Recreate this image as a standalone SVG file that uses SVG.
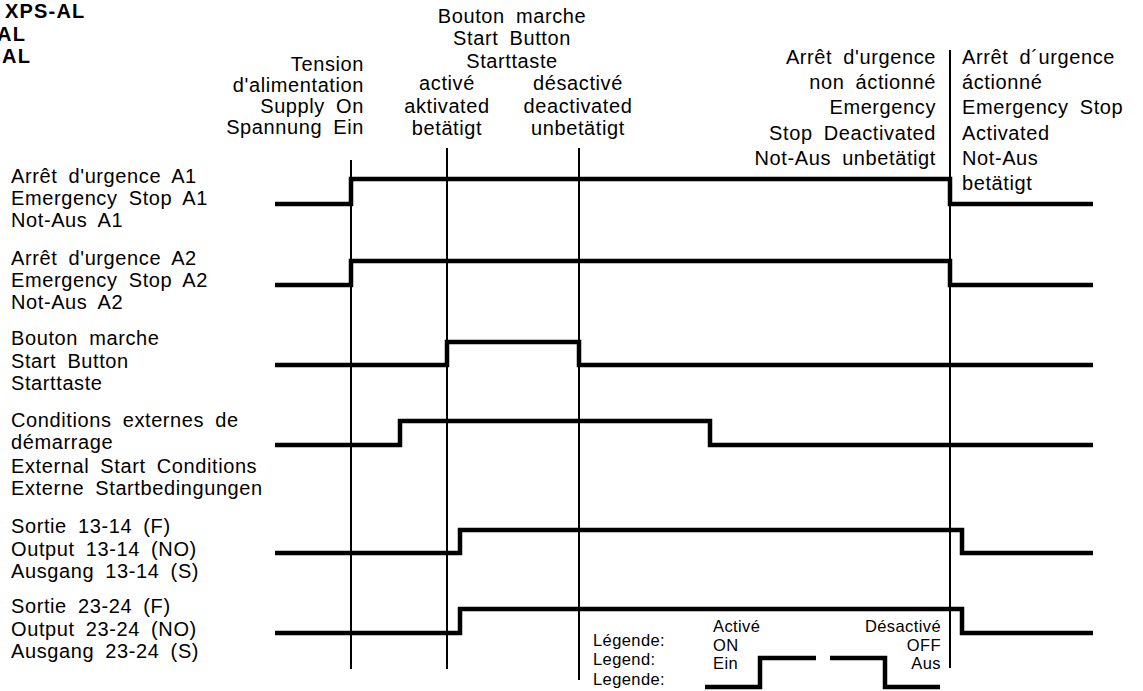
<svg xmlns="http://www.w3.org/2000/svg" width="1143" height="691" viewBox="0 0 1143 691">
<style>
text{font-family:"Liberation Sans",Arial,Helvetica,sans-serif;fill:#000}
.t{font-size:20px;letter-spacing:0.6px;word-spacing:5px}
.s{font-size:16.5px;letter-spacing:0.4px}
.b{font-size:20px;font-weight:bold;letter-spacing:1.2px}
.e{text-anchor:end}
.m{text-anchor:middle}
.w{fill:none;stroke:#000;stroke-width:4.5;stroke-linejoin:miter;stroke-linecap:butt}
.v{fill:none;stroke:#000;stroke-width:2}
</style>
<rect width="1143" height="691" fill="#fff"/>
<g id="title">
<text class="b" x="5" y="18">XPS-AL</text>
<text class="b" x="-3" y="41">AL</text>
<text class="b" x="2" y="63">AL</text>
</g>
<g id="connectors">
<line class="v" x1="351" y1="160" x2="351" y2="669"/>
<line class="v" x1="447" y1="148" x2="447" y2="669"/>
<line class="v" x1="579" y1="148" x2="579" y2="680"/>
<line class="v" x1="950" y1="50" x2="950" y2="668"/>
</g>
<g id="event-supply">
<text class="t e" x="364" y="71">Tension</text>
<text class="t e" x="364" y="92">d'alimentation</text>
<text class="t e" x="364" y="113">Supply On</text>
<text class="t e" x="364" y="134">Spannung Ein</text>
</g>
<g id="event-start">
<text class="t m" x="512" y="23">Bouton marche</text>
<text class="t m" x="512" y="45">Start Button</text>
<text class="t m" x="512" y="68">Starttaste</text>
<text class="t m" x="447" y="90">activé</text>
<text class="t m" x="447" y="113">aktivated</text>
<text class="t m" x="447" y="135">betätigt</text>
<text class="t m" x="578" y="90">désactivé</text>
<text class="t m" x="578" y="113">deactivated</text>
<text class="t m" x="578" y="135">unbetätigt</text>
</g>
<g id="event-estop-off">
<text class="t e" x="936" y="64">Arrêt d'urgence</text>
<text class="t e" x="936" y="89">non áctionné</text>
<text class="t e" x="936" y="114">Emergency</text>
<text class="t e" x="936" y="140">Stop Deactivated</text>
<text class="t e" x="936" y="165">Not-Aus unbetätigt</text>
</g>
<g id="event-estop-on">
<text class="t" x="962" y="64">Arrêt d´urgence</text>
<text class="t" x="962" y="89">áctionné</text>
<text class="t" x="962" y="114">Emergency Stop</text>
<text class="t" x="962" y="140">Activated</text>
<text class="t" x="962" y="165">Not-Aus</text>
<text class="t" x="962" y="190">betätigt</text>
</g>
<g id="row-a1">
<text class="t" x="11" y="183">Arrêt d'urgence A1</text>
<text class="t" x="11" y="205">Emergency Stop A1</text>
<text class="t" x="11" y="227">Not-Aus A1</text>
<polyline class="w" points="275,204 351,204 351,179 950,179 950,204 1093,204"/>
</g>
<g id="row-a2">
<text class="t" x="11" y="265">Arrêt d'urgence A2</text>
<text class="t" x="11" y="287">Emergency Stop A2</text>
<text class="t" x="11" y="309">Not-Aus A2</text>
<polyline class="w" points="275,285 351,285 351,261 950,261 950,285 1093,285"/>
</g>
<g id="row-start">
<text class="t" x="11" y="345">Bouton marche</text>
<text class="t" x="11" y="368">Start Button</text>
<text class="t" x="11" y="390">Starttaste</text>
<polyline class="w" points="275,365 447,365 447,342 579,342 579,365 1093,365"/>
</g>
<g id="row-ext">
<text class="t" x="11" y="427">Conditions externes de</text>
<text class="t" x="11" y="449">démarrage</text>
<text class="t" x="11" y="473">External Start Conditions</text>
<text class="t" x="11" y="495">Externe Startbedingungen</text>
<polyline class="w" points="275,445 400,445 400,421 710,421 710,445 1093,445"/>
</g>
<g id="row-out13">
<text class="t" x="11" y="533">Sortie 13-14 (F)</text>
<text class="t" x="11" y="556">Output 13-14 (NO)</text>
<text class="t" x="11" y="578">Ausgang 13-14 (S)</text>
<polyline class="w" points="275,553 460,553 460,530 962,530 962,553 1093,553"/>
</g>
<g id="row-out23">
<text class="t" x="11" y="613">Sortie 23-24 (F)</text>
<text class="t" x="11" y="636">Output 23-24 (NO)</text>
<text class="t" x="11" y="658">Ausgang 23-24 (S)</text>
<polyline class="w" points="275,633 460,633 460,609 962,609 962,633 1093,633"/>
</g>
<g id="legend">
<text class="s" x="593" y="646">Légende:</text>
<text class="s" x="593" y="665">Legend:</text>
<text class="s" x="593" y="685">Legende:</text>
<text class="s" x="713" y="632">Activé</text>
<text class="s" x="713" y="651">ON</text>
<text class="s" x="713" y="669">Ein</text>
<text class="s e" x="941" y="632">Désactivé</text>
<text class="s e" x="941" y="651">OFF</text>
<text class="s e" x="941" y="669">Aus</text>
<polyline class="w" points="705,687 760,687 760,658 816,658"/>
<polyline class="w" points="830,658 885,658 885,687 940,687"/>
</g>
</svg>
